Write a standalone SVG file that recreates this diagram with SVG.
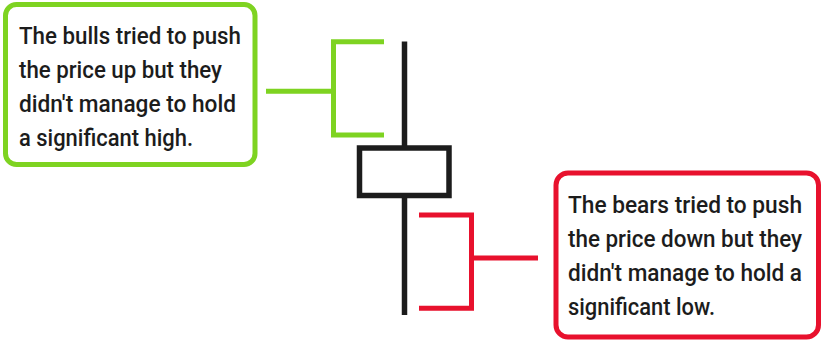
<svg xmlns="http://www.w3.org/2000/svg" width="822" height="341" viewBox="0 0 822 341">
<style>
.t{font-family:Roboto,"Liberation Sans",sans-serif;font-size:24px;font-weight:500;fill:#1c1c1c}
.g{fill:none;stroke:#7ed321;stroke-width:5}
.r{fill:none;stroke:#e8112d;stroke-width:5}
.k{fill:none;stroke:#1c1c1c;stroke-width:5.5}
</style>
<rect width="822" height="341" fill="#fff"/>
<g id="bulls-note">
<rect class="g" x="5.5" y="4.5" width="249.5" height="160" rx="11"/>
<text class="t" x="19" y="43.5" textLength="222" lengthAdjust="spacingAndGlyphs">The bulls tried to push</text>
<text class="t" x="19" y="77.5" textLength="203" lengthAdjust="spacingAndGlyphs">the price up but they</text>
<text class="t" x="19" y="111.5" textLength="217" lengthAdjust="spacingAndGlyphs">didn't manage to hold</text>
<text class="t" x="19" y="145.5" textLength="174" lengthAdjust="spacingAndGlyphs">a significant high.</text>
</g>
<g id="bears-note">
<rect class="r" x="556" y="173" width="262.5" height="164" rx="12"/>
<text class="t" x="568" y="213" textLength="234" lengthAdjust="spacingAndGlyphs">The bears tried to push</text>
<text class="t" x="568" y="247" textLength="234" lengthAdjust="spacingAndGlyphs">the price down but they</text>
<text class="t" x="568" y="281" textLength="234" lengthAdjust="spacingAndGlyphs">didn't manage to hold a</text>
<text class="t" x="568" y="315" textLength="147" lengthAdjust="spacingAndGlyphs">significant low.</text>
</g>
<g id="candle">
<line class="k" x1="404.5" y1="41.5" x2="404.5" y2="148"/>
<rect class="k" x="359.5" y="148" width="89.5" height="47.5" stroke-width="6"/>
<line class="k" x1="404.5" y1="195.5" x2="404.5" y2="315"/>
</g>
<g id="connectors">
<path class="g" d="M384 41.7H333.5V135H384M333.5 91.3H266"/>
<path class="r" d="M419 215H471.5V308.3H419M471.5 258H538"/>
</g>
</svg>
